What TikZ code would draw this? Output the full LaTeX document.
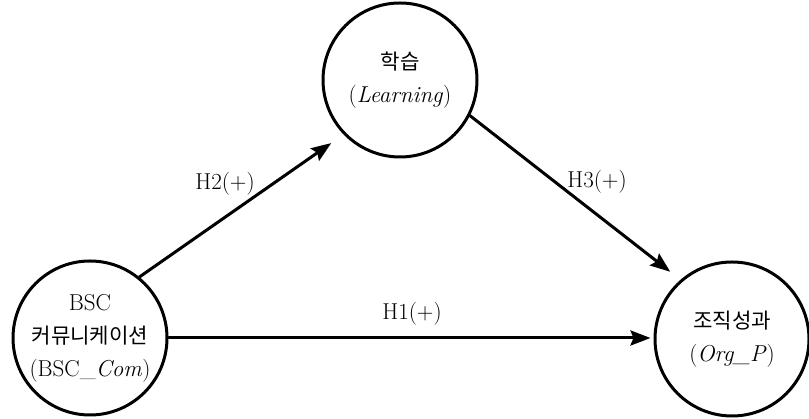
\documentclass[tikz,border=0pt]{standalone}
\usepackage{fontspec}
\newfontfamily\kr[Scale=0.92]{Noto Sans CJK KR}
\usetikzlibrary{arrows.meta}

\begin{document}
\begin{tikzpicture}[x=1pt,y=1pt,line cap=round,line join=round,
  every node/.style={inner sep=1pt,font=\fontsize{23}{33}\selectfont},
  var/.style={circle,draw,line width=3pt,minimum size=154pt,inner sep=0pt,align=center},
  hyp/.style={line width=3pt,-{Stealth[length=20pt,width=15pt,inset=3pt]}}]
  \useasboundingbox (0,0) rectangle (809,419);
  % variables
  \node[var] (com) at (90,81) {BSC\\{\kr 커뮤니케이션}\\(BSC\_\textit{Com})};
  \node[var] (learn) at (400,339) {{\kr 학습}\\(\textit{Learning})};
  \node[var] (perf) at (732,80) {{\kr 조직성과}\\(\textit{Org\_P})};
  % hypotheses
  \draw[hyp,shorten >=15pt] (com.51) -- (learn.224);
  \draw[hyp,shorten >=13pt] (learn.333) -- (perf.131);
  \draw[hyp,shorten >=3pt] (com.east) -- (com.east -| perf.west);
  \node (h2) at (225,235) {H2(+)};
  \node (h3) at (597,237) {H3(+)};
  \node (h1) at (412,105) {H1(+)};
\end{tikzpicture}
\end{document}
